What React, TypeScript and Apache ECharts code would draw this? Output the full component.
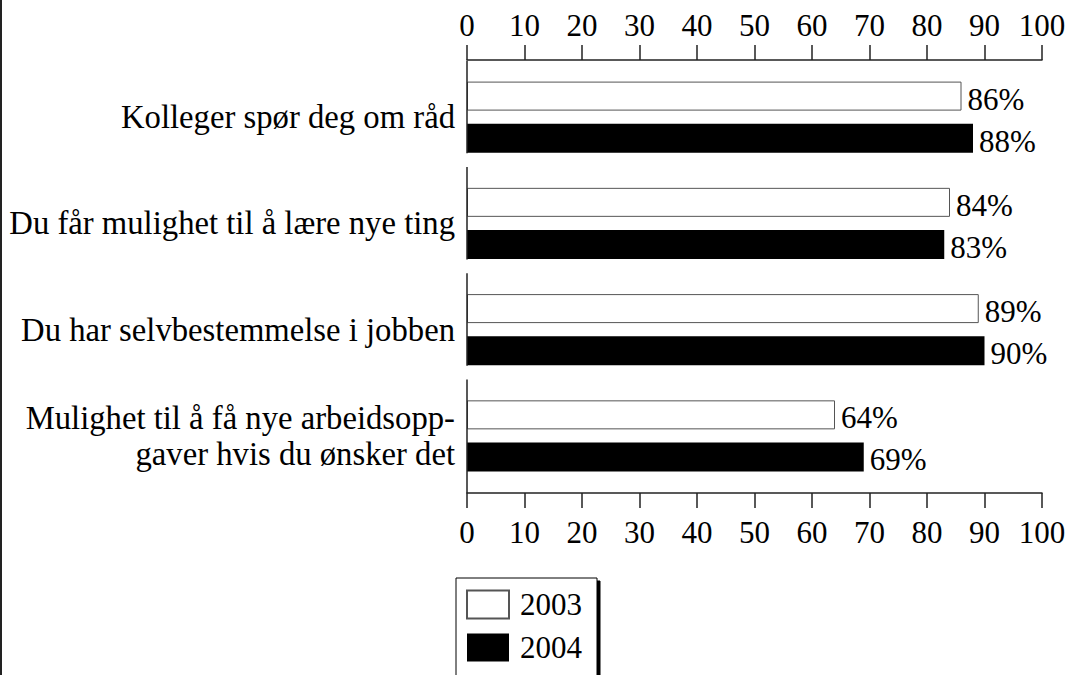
import React, { useEffect, useRef } from "react";
import * as echarts from "echarts";

const categories = [
  "Kolleger spør deg om råd",
  "Du får mulighet til å lære nye ting",
  "Du har selvbestemmelse i jobben",
  "Mulighet til å få nye arbeidsopp-\ngaver hvis du ønsker det",
];
const values2003 = [86, 84, 89, 64];
const values2004 = [88, 83, 90, 69];
const seriesNames = ["2003", "2004"];
const xTicks = { min: 0, max: 100, interval: 10 };

const FONT = "Liberation Serif";
const AXIS_COLOR = "#222";

export default function App() {
  const ref = useRef<HTMLDivElement>(null);
  useEffect(() => {
    if (!ref.current) return;
    const chart = echarts.init(ref.current, null, { renderer: "svg" });
    const xAxisBase = {
      type: "value" as const,
      min: xTicks.min,
      max: xTicks.max,
      interval: xTicks.interval,
      offset: 4,
      splitLine: { show: false },
      axisLine: { show: true, lineStyle: { color: AXIS_COLOR, width: 1.5 } },
      axisTick: { show: true, length: 15, lineStyle: { color: AXIS_COLOR, width: 1.5 } },
      axisLabel: { color: "#000", fontFamily: FONT, fontSize: 31 },
    };
    const n = categories.length;
    const valueLabel = {
      show: true,
      position: "right",
      distance: 6,
      formatter: "{c}%",
      color: "#000",
      fontFamily: FONT,
      fontSize: 31,
      offset: [0, 3],
    };
    chart.setOption({
      animation: false,
      backgroundColor: "#fff",
      grid: { left: 467, right: 34, top: 64, bottom: 186, containLabel: false },
      xAxis: [
        { ...xAxisBase, position: "top", axisLabel: { ...xAxisBase.axisLabel, margin: 19 } },
        { ...xAxisBase, position: "bottom", axisLabel: { ...xAxisBase.axisLabel, margin: 24 } },
      ],
      yAxis: {
        type: "category",
        data: categories,
        inverse: true,
        axisLine: { show: false },
        axisTick: { show: false },
        axisLabel: {
          color: "#000",
          fontFamily: FONT,
          fontSize: 32.7,
          lineHeight: 36,
          margin: 12,
          align: "right",
        },
      },
      legend: {
        orient: "vertical",
        left: 456,
        top: 578,
        height: 90,
        data: seriesNames,
        icon: "rect",
        itemWidth: 42,
        itemHeight: 28,
        itemGap: 12,
        padding: [11, 15, 30, 10],
        borderColor: "#000",
        borderWidth: 1,
        backgroundColor: "#fff",
        shadowColor: "#000",
        shadowBlur: 0,
        shadowOffsetX: 3,
        shadowOffsetY: 3,
        textStyle: { color: "#000", fontFamily: FONT, fontSize: 31, padding: [0, 0, 0, 6] },
        selectedMode: false,
      },
      graphic: [
        {
          type: "line",
          shape: { x1: 1, y1: 0, x2: 1, y2: 675 },
          style: { stroke: AXIS_COLOR, lineWidth: 2 },
        },
      ],
      series: [
        {
          name: seriesNames[0],
          type: "bar",
          data: values2003,
          barWidth: 29,
          barGap: "45%",
          itemStyle: { color: "#fff", borderColor: "#555", borderWidth: 1 },
          label: valueLabel,
        },
        {
          name: seriesNames[1],
          type: "bar",
          data: values2004,
          barWidth: 29,
          itemStyle: { color: "#000" },
          label: valueLabel,
        },
        {
          type: "custom",
          silent: true,
          data: categories.map((_, i) => [0, i]),
          encode: { x: 0, y: 1 },
          renderItem: (params: any, api: any) => {
            const idx = api.value(1);
            const pt = api.coord([0, idx]);
            const band = api.size([0, 1])[1];
            const cs = params.coordSys;
            const x = cs.x;
            const y1 = pt[1] - band * 0.53;
            const y2 = idx === n - 1 ? cs.y + cs.height + 4 : pt[1] + band * 0.34;
            return {
              type: "line",
              shape: { x1: x, y1, x2: x, y2 },
              style: { stroke: AXIS_COLOR, lineWidth: 1.5 },
            };
          },
          z: 5,
        },
      ],
    });
    return () => chart.dispose();
  }, []);
  return (
    <div
      ref={ref}
      style={{ position: "fixed", left: 0, top: 0, width: 1076, height: 675 }}
    />
  );
}
